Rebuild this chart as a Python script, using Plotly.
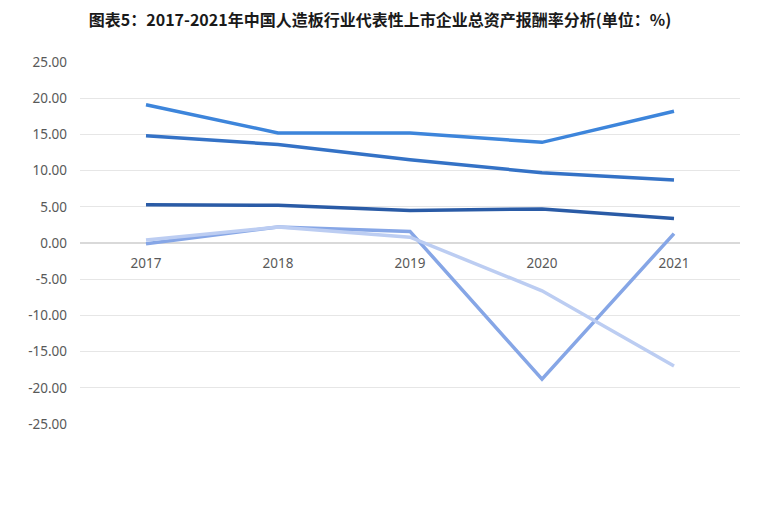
import plotly.graph_objects as go

# data (ROA, %)
years = ['2017', '2018', '2019', '2020', '2021']
series_a = [19.1, 15.2, 15.2, 13.9, 18.2]
series_b = [14.8, 13.6, 11.5, 9.7, 8.7]
series_c = [5.3, 5.2, 4.5, 4.7, 3.4]
series_d = [-0.1, 2.2, 1.6, -18.8, 1.3]
series_e = [0.4, 2.2, 0.8, -6.6, -17.0]

y_ticks = [25, 20, 15, 10, 5, 0, -5, -10, -15, -20, -25]
y_tick_labels = ['%.2f' % v for v in y_ticks]

title_text = '图表5：2017-2021年中国人造板行业代表性上市企业总资产报酬率分析(单位：%)'

line_colors = ['#3d85db', '#3472c6', '#2a5ba6', '#86a6e6', '#bccdf2']
all_series = [series_a, series_b, series_c, series_d, series_e]

fig = go.Figure()

# lighter lines drawn last so they sit on top like in the original
for values, color in zip(all_series, line_colors):
    fig.add_trace(go.Scatter(
        x=years,
        y=values,
        mode='lines',
        line=dict(color=color, width=3.5),
        showlegend=False,
        hoverinfo='x+y'
    ))

fig.update_layout(
    width=760,
    height=532,
    paper_bgcolor='white',
    plot_bgcolor='white',
    margin=dict(l=72, r=28, t=54, b=116),
    font=dict(family='Noto Sans, DejaVu Sans, sans-serif', color='#595959', size=13),
    title=dict(
        text='<b>' + title_text + '</b>',
        x=0.4895,
        xanchor='center',
        y=0.977,
        yanchor='middle',
        font=dict(family='Noto Sans CJK SC', size=16, color='#1a1a1a')
    ),
    xaxis=dict(
        anchor='free',
        position=0.5,
        showgrid=False,
        showline=False,
        zeroline=False,
        ticks='',
        ticklabelstandoff=10,
        tickfont=dict(size=13.5, color='#595959'),
        range=[-0.5, 4.5]
    ),
    yaxis=dict(
        range=[-25, 25],
        tickvals=y_ticks,
        ticktext=y_tick_labels,
        showgrid=True,
        gridcolor='#e6e6e6',
        gridwidth=1,
        zeroline=True,
        zerolinecolor='#d9d9d9',
        zerolinewidth=2,
        showline=False,
        ticks='',
        ticklabelstandoff=12,
        tickfont=dict(size=13.5, color='#595959')
    )
)

fig.write_html("out.html")
